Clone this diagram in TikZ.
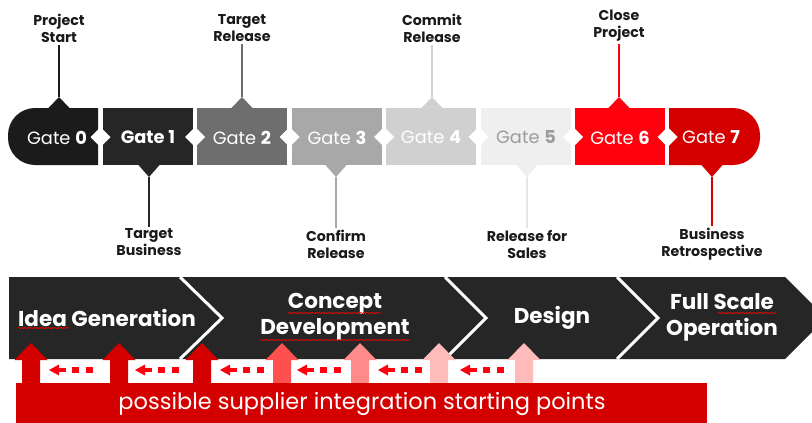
\documentclass[tikz,border=0pt]{standalone}
\usepackage{fontspec}
\setmainfont{Poppins}
\usetikzlibrary{decorations.pathmorphing}
\definecolor{cg0}{HTML}{1B1B1B}
\definecolor{cg1}{HTML}{262626}
\definecolor{cg2}{HTML}{6E6E6E}
\definecolor{cg3}{HTML}{A8A8A8}
\definecolor{cg4}{HTML}{D0D0D0}
\definecolor{cg5}{HTML}{EFEFEF}
\definecolor{cg5line}{HTML}{E6E6E6}
\definecolor{cg5txt}{HTML}{9C9C9C}
\definecolor{cg6}{HTML}{FF000F}
\definecolor{cg7}{HTML}{D40000}
\definecolor{band}{HTML}{262626}
\definecolor{barred}{HTML}{D40000}
\definecolor{up4}{HTML}{FF5050}
\definecolor{up5}{HTML}{FF8A8A}
\definecolor{up6}{HTML}{FFBABA}
\definecolor{leftred}{HTML}{FF000F}
\definecolor{labtxt}{HTML}{1A1A1A}
\begin{document}
\begin{tikzpicture}[x=1pt,y=-1pt,
  gtxt/.style={text=white,font=\fontsize{17.8}{20}\selectfont,inner sep=0pt},
  lab/.style={text=labtxt,font=\bfseries\fontsize{14.2}{17}\selectfont,align=center,inner sep=2pt},
  pline/.style={line width=2pt},
  phase/.style={text=white,font=\bfseries\fontsize{21.5}{26}\selectfont,align=center,inner sep=0pt},
  chev/.style={draw=white,line width=3pt},
  squig/.style={draw=red,line width=0.6pt,decorate,decoration={snake,amplitude=0.7pt,segment length=3pt}}]
\useasboundingbox (0,0) rectangle (812,423);
% ---------- gate segments ----------
\fill[cg0] (98,165) [sharp corners]-- (98,108) [rounded corners=27pt]-- (8,108) -- (8,165) [sharp corners]-- cycle;
\fill[cg1] (103,108) rectangle (193,165);
\fill[cg2] (197,108) rectangle (287,165);
\fill[cg3] (292,108) rectangle (382,165);
\fill[cg4] (386,108) rectangle (476,165);
\fill[cg5] (481,108) rectangle (571,165);
\fill[cg6] (575,108) rectangle (665,165);
\fill[cg7] (669,108) [sharp corners]-- (669,165) [rounded corners=27pt]-- (760,165) -- (760,108) [sharp corners]-- cycle;
% diamonds
\foreach \dx in {100.5,195,289.5,384,478.5,573,667.5}
  \fill[white] (\dx-10,137) -- (\dx,127) -- (\dx+10,137) -- (\dx,147) -- cycle;
% gate texts
\node[gtxt] (t0) at (57,137.5) {Gate \textbf{0}};
\node[gtxt] (t1) at (148,137.5) {\textbf{Gate 1}};
\node[gtxt] (t2) at (242,137.5) {Gate \textbf{2}};
\node[gtxt] (t3) at (337,137.5) {Gate \textbf{3}};
\node[gtxt] (t4) at (431,137.5) {Gate \textbf{4}};
\node[gtxt,text=cg5txt] (t5) at (526,137.5) {Gate \textbf{5}};
\node[gtxt] (t6) at (620,137.5) {Gate \textbf{6}};
\node[gtxt] (t7) at (711,137.5) {Gate \textbf{7}};
% pointer triangles
\foreach \px/\c in {59/cg0,242/cg2,432/cg4,619/cg6}
  \fill[\c] (\px-11,108.5) -- (\px,97) -- (\px+11,108.5) -- cycle;
\foreach \px/\c in {149/cg1,336/cg3,527/cg5,712/cg7}
  \fill[\c] (\px-11,164.5) -- (\px,177) -- (\px+11,164.5) -- cycle;
\coordinate (p0) at (59,97);
\coordinate (p1) at (149,177);
\coordinate (p2) at (242,97);
\coordinate (p3) at (336,177);
\coordinate (p4) at (432,97);
\coordinate (p5) at (527,177);
\coordinate (p6) at (619,97);
\coordinate (p7) at (712,177);
% labels
\node[lab] (l0) at (59,28.5) {Project\\Start};
\node[lab] (l2) at (242,28.5) {Target\\Release};
\node[lab] (l4) at (432,28.5) {Commit\\Release};
\node[lab] (l6) at (619,26) {Close\\Project};
\node[lab] (l1) at (149,242.5) {Target\\Business};
\node[lab] (l3) at (336,244.5) {Confirm\\Release};
\node[lab] (l5) at (527,244.5) {Release for\\Sales};
\node[lab] (l7) at (712,244.5) {Business\\Retrospective};
% connectors
\draw[pline,cg0] (p0) -- (l0.south);
\draw[pline,cg2] (p2) -- (l2.south);
\draw[pline,cg4] (p4) -- (l4.south);
\draw[pline,cg6] (p6) -- (l6.south);
\draw[pline,cg1] (p1) -- (l1.north);
\draw[pline,cg3] (p3) -- (l3.north);
\draw[pline,cg5line] (p5) -- (l5.north);
\draw[pline,cg7] (p7) -- (l7.north);
% ---------- phase band ----------
\fill[band] (9,277) -- (785,277) -- (826,318) -- (785,359) -- (9,359) -- cycle;
\draw[chev] (180,277) -- (222,318) -- (180,359);
\draw[chev] (445,277) -- (486,318) -- (445,359);
\draw[chev] (617,277) -- (658,318) -- (617,359);
\node[phase] (ph1) at (107,318) {Idea Generation};
\node[phase] (ph2) at (335,317) {Concept\\Development};
\node[phase] (ph3) at (552,318) {Design};
\node[phase] (ph4) at (722,317) {Full Scale\\Operation};
\draw[squig] (18,328) -- (69,328);
\draw[squig] (288,313) -- (381,313);
\draw[squig] (260,340) -- (410,340);
\draw[squig] (718,313) -- (776,313);
% ---------- up arrows ----------
\foreach \cx/\c in {31/barred,119/barred,202/barred,282/up4,360/up5,439/up6,524/up6}
  \fill[\c] (\cx-9,385) -- (\cx-9,360) -- (\cx-16.5,360) -- (\cx,343) -- (\cx+16.5,360) -- (\cx+9,360) -- (\cx+9,385) -- cycle;
% ---------- left arrows ----------
\foreach \x in {49,135,220,297,378,460}{
  \fill[leftred] (\x,370) -- (\x+10,364.5) -- (\x+10,375.5) -- cycle;
  \fill[leftred] (\x+9,368) rectangle (\x+17,372);
  \fill[leftred] (\x+23,367) rectangle (\x+30,373);
  \fill[leftred] (\x+37,367) rectangle (\x+44,373);
}
% ---------- bottom bar ----------
\fill[barred] (16,383) rectangle (707,423);
\node[text=white,font=\fontsize{22.5}{26}\selectfont,inner sep=0pt] (bar) at (362,404) {possible supplier integration starting points};
\end{tikzpicture}
\end{document}
